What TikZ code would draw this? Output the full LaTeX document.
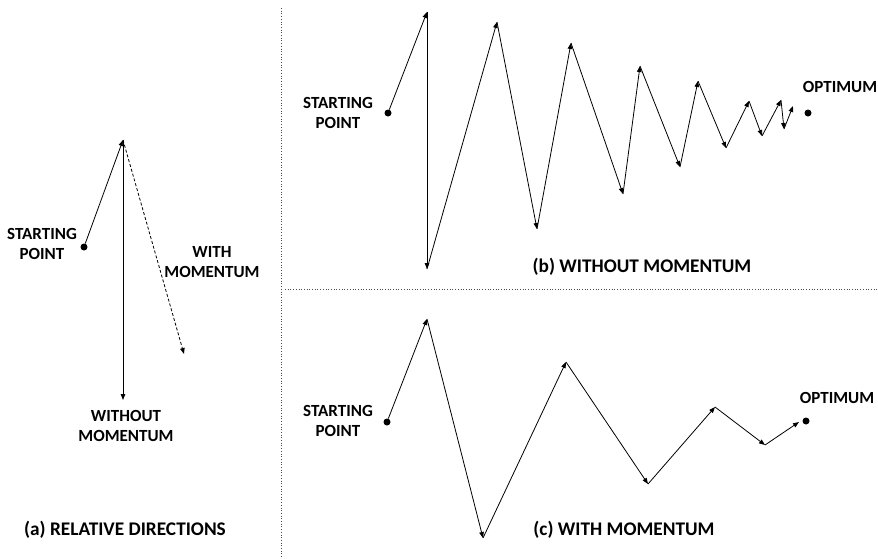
\documentclass[tikz,border=0pt]{standalone}
\usepackage{fontspec}
\setmainfont{Carlito}
\usetikzlibrary{arrows.meta}
\tikzset{
  dot/.style={circle,fill=black,inner sep=0pt,minimum size=7pt},
  lbl/.style={font=\bfseries\fontsize{17}{20}\selectfont,align=center,inner sep=0pt},
  caption/.style={font=\bfseries\fontsize{19.3}{22}\selectfont,inner sep=0pt},
  divider/.style={draw=black!70,dotted,line width=0.7pt}
}

\begin{document}
\begin{tikzpicture}[x=1pt,y=-1pt]
\useasboundingbox (0,0) rectangle (878,558);
% panel dividers
\coordinate (vtop) at (281,8);
\coordinate (vbot) at (281,558);
\coordinate (hleft) at (285,289);
\coordinate (hright) at (878,289);
\draw [divider] (vtop) -- (vbot);
\draw [divider] (hleft) -- (hright);

% (a) relative directions
\node [dot] (A0) at (84,247) {};
\coordinate (A1) at (123,140);
\coordinate (A2) at (123,400);
\coordinate (A3) at (184,354);
\node [lbl] (Astart) at (42,244) {STARTING\\POINT};
\node [lbl] (Awith) at (212,262) {WITH\\MOMENTUM};
\node [lbl] (Awithout) at (126,426) {WITHOUT\\MOMENTUM};
\node [caption] (Acap) at (125,530) {(a) RELATIVE DIRECTIONS};

% (b) without momentum
\node [dot] (B0) at (388,113) {};
\coordinate (B1) at (427,12);
\coordinate (B2) at (427,269);
\coordinate (B3) at (497,22);
\coordinate (B4) at (537,229);
\coordinate (B5) at (571,43);
\coordinate (B6) at (623,194);
\coordinate (B7) at (640,66);
\coordinate (B8) at (680,167);
\coordinate (B9) at (698,81);
\coordinate (B10) at (726,148);
\coordinate (B11) at (749,101);
\coordinate (B12) at (762,136);
\coordinate (B13) at (781,100);
\coordinate (B14) at (784,129);
\coordinate (B15) at (793,106);
\node [dot] (Bopt) at (808,113) {};
\node [lbl] (Bstart) at (338,113) {STARTING\\POINT};
\node [lbl] (Boptlbl) at (840,87) {OPTIMUM};
\node [caption] (Bcap) at (642,267) {(b) WITHOUT MOMENTUM};

% (c) with momentum
\node [dot] (C0) at (387,422) {};
\coordinate (C1) at (427,319);
\coordinate (C2) at (483,538);
\coordinate (C3) at (566,362);
\coordinate (C4) at (648,484);
\coordinate (C5) at (715,407);
\coordinate (C6) at (765,445);
\coordinate (C7) at (799,422);
\node [dot] (Copt) at (806,421) {};
\node [lbl] (Cstart) at (338,421) {STARTING\\POINT};
\node [lbl] (Coptlbl) at (837,398) {OPTIMUM};
\node [caption] (Ccap) at (624,530) {(c) WITH MOMENTUM};

\begin{scope}[>={Triangle[length=6pt,width=4.5pt]},
              every edge/.style={draw=black,line width=0.8pt}]
    \path [->] (A0) edge (A1);
    \path [->] (A1) edge (A2);
    \path [->,dash pattern=on 3pt off 2pt] (A1) edge (A3);

    \path [->] (B0) edge (B1);
    \path [->] (B1) edge (B2);
    \path [->] (B2) edge (B3);
    \path [->] (B3) edge (B4);
    \path [->] (B4) edge (B5);
    \path [->] (B5) edge (B6);
    \path [->] (B6) edge (B7);
    \path [->] (B7) edge (B8);
    \path [->] (B8) edge (B9);
    \path [->] (B9) edge (B10);
    \path [->] (B10) edge (B11);
    \path [->] (B11) edge (B12);
    \path [->] (B12) edge (B13);
    \path [->] (B13) edge (B14);
    \path [->] (B14) edge (B15);

    \path [->] (C0) edge (C1);
    \path [->] (C1) edge (C2);
    \path [->] (C2) edge (C3);
    \path [->] (C3) edge (C4);
    \path [->] (C4) edge (C5);
    \path [->] (C5) edge (C6);
    \path [->] (C6) edge (C7);
\end{scope}
\end{tikzpicture}
\end{document}
